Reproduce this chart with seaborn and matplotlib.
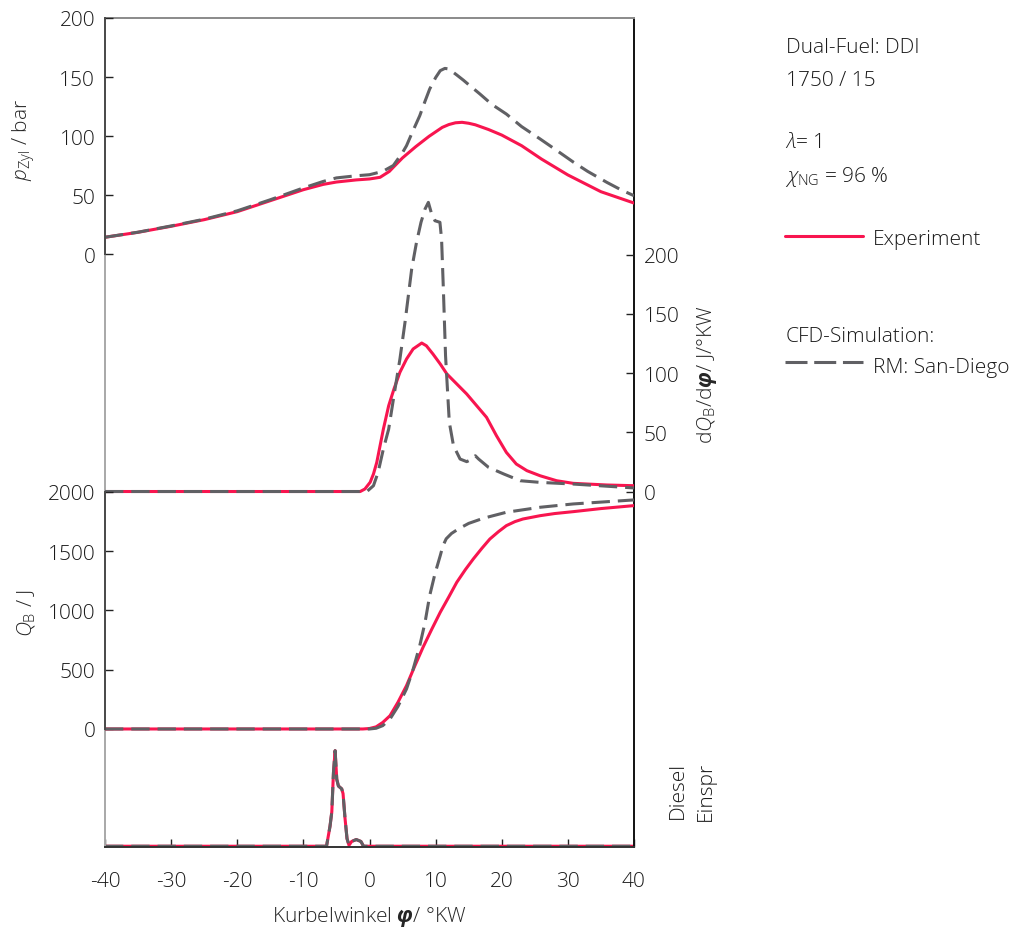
import matplotlib
matplotlib.use("Agg")
import matplotlib.pyplot as plt
from matplotlib.lines import Line2D
import pandas as pd
import seaborn as sns

# ---------------- data ----------------
SOURCES = ["Experiment", "RM: San-Diego"]

# cylinder pressure / bar
p_exp_deg = [-40, -35, -30, -25, -20, -15, -10, -7, -5, -2, 0, 1.6, 3, 3.6, 5, 7, 9, 11, 12, 13,
             14, 15, 16, 18, 20, 23, 26, 30, 35, 40]
p_exp_bar = [14.2, 18.4, 23.5, 29.1, 35.9, 45.2, 54.5, 59.0, 61.0, 62.8, 63.6, 65.0, 70.0, 73.5,
             81.5, 91.0, 99.7, 107.3, 109.7, 111.2, 111.6, 110.8, 109.5, 105.5, 100.8, 91.8, 80.5,
             67.0, 52.8, 43.2]
p_cfd_deg = [-40, -35, -30, -25, -20, -15, -10, -7, -5, -2, 0, 2, 3.6, 5, 5.6, 6.5, 7.6, 8.4, 9.1,
             10, 10.7, 11.4, 12, 13.2, 14.2, 15, 16.7, 18.5, 20.7, 23, 25.8, 28, 30.8, 33, 35.9,
             38, 40]
p_cfd_bar = [14.2, 18.5, 23.8, 29.5, 36.6, 46.0, 56.0, 61.5, 64.5, 66.3, 67.2, 70.0, 75.0, 86.0,
             91.8, 103.5, 117.2, 129.5, 139.8, 149.5, 155.4, 157.3, 156.8, 151.7, 147.3, 143.5,
             135.6, 126.8, 118.6, 108.0, 97.5, 89.0, 78.0, 70.0, 60.7, 54.5, 49.4]

# heat release rate dQ_B/dphi / J/degCA
h_exp_deg = [-40, -1.4, -0.7, 0.1, 0.6, 1.1, 1.6, 2.1, 2.9, 3.7, 4.6, 5.6, 6.6, 7.9, 8.6, 9.6,
             10.7, 11.7, 14.7, 17.7, 19.2, 20.7, 22.2, 23.8, 25.8, 28.3, 30.8, 35.9, 40]
h_exp_val = [0, 0, 2.1, 7.8, 14.8, 24.6, 38.7, 52.7, 72.4, 86.5, 100.6, 111.8, 120.3, 125.3, 123.0,
             116.0, 107.6, 99.2, 82.3, 62.6, 47.1, 33.0, 23.2, 17.6, 13.3, 9.1, 6.9, 5.5, 4.9]
h_cfd_deg = [-40, -0.4, 0.6, 1.3, 2.1, 2.9, 3.86, 4.6, 5.37, 6.38, 7.1, 7.79, 8.4, 8.9, 9.4, 9.9,
             10.65, 10.9, 11.17, 11.5, 12.07, 12.7, 13.7, 14.7, 15.4, 16.0, 16.5, 18.0, 20.3,
             22.8, 25.8, 30.8, 35.0, 40.0]
h_cfd_val = [0, 0, 4.9, 16.2, 35.9, 52.7, 86.5, 111.8, 142.8, 187.8, 210.0, 227.2, 238.4, 244.0,
             234.2, 228.5, 227.2, 213.0, 170.9, 114.6, 58.4, 38.7, 27.4, 25.2, 27.0, 30.2, 27.4,
             20.4, 14.8, 9.1, 7.7, 6.3, 4.8, 3.0]

# cumulative heat release Q_B / J
q_exp_deg = [-40, -1, 0, 1, 2, 3.1, 4.3, 5.6, 6.8, 8.1, 9.4, 10.7, 12, 13.2, 14.5, 15.7, 17, 18.2,
             19.5, 20.7, 22, 23.2, 25.8, 28, 30.8, 35, 40]
q_exp_val = [0, 0, 4, 18, 55, 112, 225, 366, 525, 690, 840, 985, 1115, 1238, 1345, 1435, 1525,
             1603, 1665, 1716, 1750, 1772, 1800, 1818, 1834, 1860, 1885]
q_cfd_deg = [-40, 0, 1, 2, 3.1, 4.3, 5.6, 6.6, 7.6, 8.4, 9.1, 9.9, 10.7, 11.1, 11.6, 12.4, 13.5,
             15.0, 17.2, 20.7, 25.8, 30.8, 35.9, 40]
q_cfd_val = [0, 0, 6, 28, 84, 190, 338, 505, 703, 900, 1125, 1310, 1463, 1545, 1605, 1650, 1690,
             1735, 1778, 1829, 1871, 1899, 1918, 1933]

# diesel injection signal (normalised)
inj_deg = [-40, -6.5, -5.97, -5.7, -5.45, -5.2, -4.95, -4.7, -4.2, -4.0, -3.7, -3.4, -3.1, -2.7,
           -2.0, -1.3, -0.9, 40]
inj_val = [0, 0, 0.21, 0.36, 0.77, 1.0, 0.70, 0.63, 0.60, 0.55, 0.29, 0.08, 0.01, 0.05, 0.07,
           0.05, 0, 0]

x_ticks = [-40, -30, -20, -10, 0, 10, 20, 30, 40]
p_ticks = [0, 50, 100, 150, 200]
h_ticks = [0, 50, 100, 150, 200]
q_ticks = [0, 500, 1000, 1500, 2000]

# ---------------- style ----------------
sns.set_style("white")
plt.rcParams["font.family"] = ["Open Sans", "DejaVu Sans"]
plt.rcParams["font.weight"] = "light"
plt.rcParams["axes.labelweight"] = "light"
plt.rcParams["mathtext.fontset"] = "custom"
plt.rcParams["mathtext.rm"] = "Open Sans:light"
plt.rcParams["mathtext.it"] = "Open Sans:italic:light"
plt.rcParams["mathtext.bf"] = "Open Sans:bold"
plt.rcParams["mathtext.bfit"] = "Open Sans:italic:bold"
plt.rcParams["text.color"] = "#1a1a1a"

RED = "#F8154F"
GRAY = "#606064"
FS = 15
LW = 2.2
DASH = (6, 2.6)
palette = {SOURCES[0]: RED, SOURCES[1]: GRAY}
dashes = {SOURCES[0]: "", SOURCES[1]: DASH}


def traces(deg_a, val_a, deg_b, val_b):
    return pd.concat([
        pd.DataFrame({"deg": deg_a, "val": val_a, "src": SOURCES[0]}),
        pd.DataFrame({"deg": deg_b, "val": val_b, "src": SOURCES[1]}),
    ], ignore_index=True)


def draw(ax, df):
    sns.lineplot(data=df, x="deg", y="val", hue="src", style="src", hue_order=SOURCES,
                 style_order=SOURCES, palette=palette, dashes=dashes, estimator=None,
                 sort=False, linewidth=LW, legend=False, ax=ax)
    ax.set_xlabel("")
    ax.set_ylabel("")


W_PX, H_PX = 1029, 929
fig = plt.figure(figsize=(W_PX / 100, H_PX / 100), dpi=100)
fig.patch.set_facecolor("white")
rect = [105 / W_PX, 1 - 848 / H_PX, 529 / W_PX, 829 / H_PX]

ax_f = fig.add_axes(rect)          # frame + injection trace
ax_p = ax_f.twinx()                # pressure (left)
ax_h = ax_f.twinx()                # heat release rate (right)
ax_q = ax_f.twinx()                # cumulative heat (left)

draw(ax_f, traces(inj_deg, inj_val, inj_deg, inj_val))
draw(ax_p, traces(p_exp_deg, p_exp_bar, p_cfd_deg, p_cfd_bar))
draw(ax_h, traces(h_exp_deg, h_exp_val, h_cfd_deg, h_cfd_val))
draw(ax_q, traces(q_exp_deg, q_exp_val, q_cfd_deg, q_cfd_val))

ax_f.set_xlim(-40, 40)
ax_f.set_ylim(-0.008, 8.664)
ax_p.set_ylim(-502.5, 200)
ax_h.set_ylim(-300, 399.6)
ax_q.set_ylim(-996, 6000)

tick_kw = dict(direction="in", length=6, width=1.0, color="#222222", labelsize=FS,
               labelcolor="#1a1a1a")

ax_f.set_xticks(x_ticks)
ax_f.set_xticklabels([str(v) for v in x_ticks])
ax_f.tick_params(axis="x", pad=17, bottom=True, top=False, **tick_kw)
ax_f.set_yticks([])

ax_p.yaxis.tick_left()
ax_p.set_yticks(p_ticks)
ax_p.tick_params(axis="y", pad=7, **tick_kw)
ax_q.yaxis.tick_left()
ax_q.set_yticks(q_ticks)
ax_q.tick_params(axis="y", pad=7, **tick_kw)
ax_h.yaxis.tick_right()
ax_h.set_yticks(h_ticks)
ax_h.tick_params(axis="y", pad=7, **tick_kw)

# spines
for ax in (ax_p, ax_h, ax_q):
    for s in ax.spines.values():
        s.set_visible(False)
ax_f.spines["left"].set_color("#a8a8a8")
ax_f.spines["top"].set_color("#8a8a8a")
ax_f.spines["bottom"].set_color("#333333")
ax_f.spines["right"].set_color("#111111")
for s in ax_f.spines.values():
    s.set_linewidth(1.4)
for ax, hi in ((ax_p, 200), (ax_q, 2000)):
    sp = ax.spines["left"]
    sp.set_visible(True)
    sp.set_bounds(0, hi)
    sp.set_color("#4a4a4a")
    sp.set_linewidth(1.4)

# axis labels
ax_f.set_xlabel(r"Kurbelwinkel $\mathbfit{\varphi}$/ °KW", fontsize=FS)
ax_f.xaxis.set_label_coords(0.5, -0.069)
ax_p.yaxis.set_label_position("left")
ax_p.set_ylabel(r"$p_\mathrm{Zyl}$ / bar", fontsize=FS)
ax_p.yaxis.set_label_coords(-0.1285, 0.854)
ax_q.yaxis.set_label_position("left")
ax_q.set_ylabel(r"$Q_\mathrm{B}$ / J", fontsize=FS)
ax_q.yaxis.set_label_coords(-0.1285, 0.2835)
ax_h.set_ylabel(r"d$Q_\mathrm{B}$/d$\mathbfit{\varphi}$/ J/°KW", fontsize=FS)
ax_h.yaxis.set_label_coords(1.1153, 0.5706)
ax_f.text(1.1096, 0.0688, "Diesel\nEinspr", rotation=90, transform=ax_f.transAxes,
          ha="center", va="center", fontsize=FS, linespacing=1.5)


# annotation block and legend on the right
def fx(px):
    return px / W_PX


def fy(py):
    return 1 - py / H_PX


txt = dict(fontsize=FS, va="baseline", ha="left")
fig.text(fx(786), fy(53), "Dual-Fuel: DDI", **txt)
fig.text(fx(786), fy(86), "1750 / 15", **txt)
fig.text(fx(785), fy(148), r"$\lambda$= 1", **txt)
fig.text(fx(785), fy(182), r"$\chi_\mathrm{NG}$ = 96 %", **txt)
fig.add_artist(Line2D([fx(785), fx(863)], [fy(237), fy(237)], color=RED, lw=LW,
                      transform=fig.transFigure))
fig.text(fx(873), fy(245), SOURCES[0], **txt)
fig.text(fx(786), fy(342), "CFD-Simulation:", **txt)
fig.add_artist(Line2D([fx(785), fx(863)], [fy(363), fy(363)], color=GRAY, lw=LW,
                      dashes=(7.2, 2.2), transform=fig.transFigure))
fig.text(fx(873), fy(373), SOURCES[1], **txt)

fig.savefig("out.png", dpi=100, facecolor="white")
